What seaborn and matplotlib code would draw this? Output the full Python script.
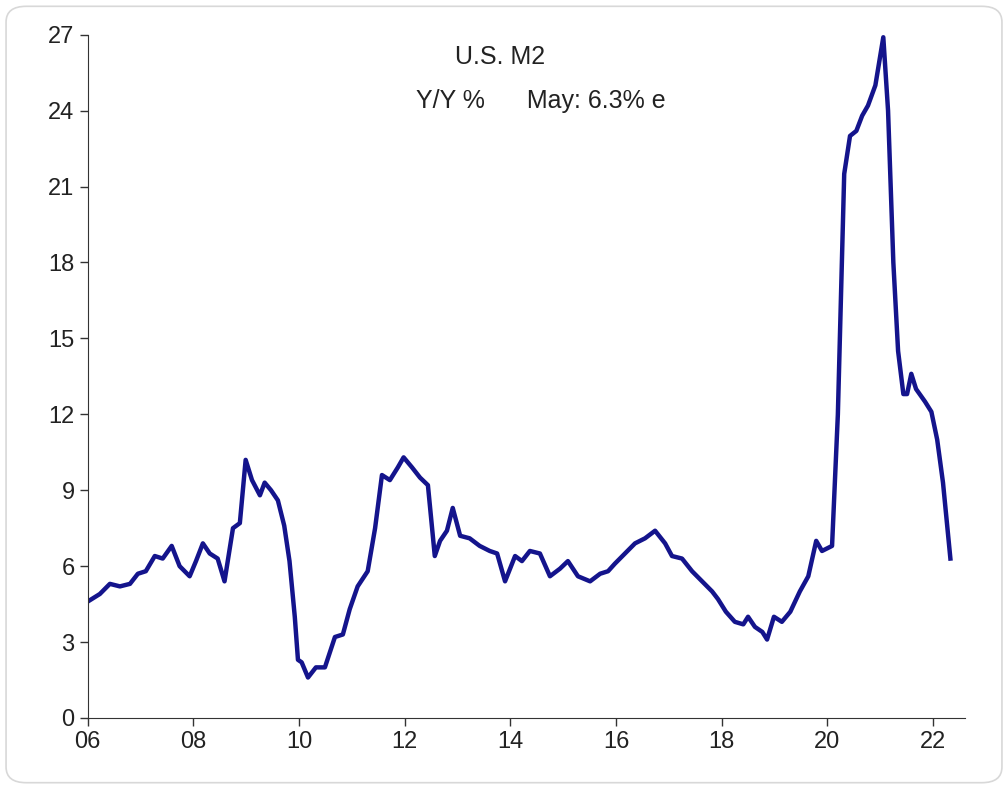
import matplotlib
matplotlib.use("Agg")
import matplotlib.pyplot as plt
import seaborn as sns
import pandas as pd
from matplotlib.patches import FancyBboxPatch

# ----------------------------
# DATA
# ----------------------------
years = [
    2006.00, 2006.23, 2006.42, 2006.61, 2006.80, 2006.95, 2007.10, 2007.27, 2007.42, 2007.59,
    2007.74, 2007.93, 2008.05, 2008.18, 2008.31, 2008.46, 2008.59, 2008.75, 2008.88, 2008.99,
    2009.11, 2009.26, 2009.35, 2009.47, 2009.60, 2009.72, 2009.82, 2009.92, 2009.98, 2010.05,
    2010.17, 2010.32, 2010.49, 2010.68, 2010.83, 2010.96, 2011.11, 2011.30, 2011.44, 2011.57,
    2011.72, 2011.87, 2011.98, 2012.14, 2012.29, 2012.44, 2012.57, 2012.67, 2012.80, 2012.91,
    2013.05, 2013.23, 2013.42, 2013.61, 2013.75, 2013.90, 2014.09, 2014.22, 2014.37, 2014.56,
    2014.75, 2014.94, 2015.09, 2015.28, 2015.51, 2015.70, 2015.85, 2015.98, 2016.17, 2016.36,
    2016.55, 2016.74, 2016.93, 2017.06, 2017.25, 2017.44, 2017.63, 2017.82, 2017.93, 2018.08,
    2018.25, 2018.41, 2018.50, 2018.63, 2018.77, 2018.86, 2018.99, 2019.14, 2019.30, 2019.48,
    2019.64, 2019.79, 2019.90, 2020.09, 2020.20, 2020.32, 2020.43, 2020.55, 2020.66, 2020.77,
    2020.91, 2021.06, 2021.15, 2021.25, 2021.34, 2021.44, 2021.51, 2021.59, 2021.68, 2021.85,
    2021.97, 2022.08, 2022.19, 2022.33,
]
m2_yoy = [
    4.6, 4.9, 5.3, 5.2, 5.3, 5.7, 5.8, 6.4, 6.3, 6.8,
    6.0, 5.6, 6.2, 6.9, 6.5, 6.3, 5.4, 7.5, 7.7, 10.2,
    9.4, 8.8, 9.3, 9.0, 8.6, 7.6, 6.2, 4.0, 2.3, 2.2,
    1.6, 2.0, 2.0, 3.2, 3.3, 4.3, 5.2, 5.8, 7.5, 9.6,
    9.4, 9.9, 10.3, 9.9, 9.5, 9.2, 6.4, 7.0, 7.4, 8.3,
    7.2, 7.1, 6.8, 6.6, 6.5, 5.4, 6.4, 6.2, 6.6, 6.5,
    5.6, 5.9, 6.2, 5.6, 5.4, 5.7, 5.8, 6.1, 6.5, 6.9,
    7.1, 7.4, 6.9, 6.4, 6.3, 5.8, 5.4, 5.0, 4.7, 4.2,
    3.8, 3.7, 4.0, 3.6, 3.4, 3.1, 4.0, 3.8, 4.2, 5.0,
    5.6, 7.0, 6.6, 6.8, 12.0, 21.5, 23.0, 23.2, 23.8, 24.2,
    25.0, 26.9, 24.0, 18.0, 14.5, 12.8, 12.8, 13.6, 13.0, 12.5,
    12.1, 11.0, 9.3, 6.3,
]
x_ticks = [2006, 2008, 2010, 2012, 2014, 2016, 2018, 2020, 2022]
x_labels = ["06", "08", "10", "12", "14", "16", "18", "20", "22"]
y_ticks = [0, 3, 6, 9, 12, 15, 18, 21, 24, 27]

df = pd.DataFrame({"year": years, "m2": m2_yoy})

# ----------------------------
# PLOT
# ----------------------------
plt.rcParams["font.family"] = "Liberation Sans"
fig = plt.figure(figsize=(10.08, 7.89), dpi=100)
fig.patches.append(FancyBboxPatch((0.006, 0.008), 0.988, 0.984,
                                  boxstyle="round,pad=0,rounding_size=0.02",
                                  transform=fig.transFigure, fill=False,
                                  edgecolor="#d8d8d8", linewidth=1.2))
ax = fig.add_axes([0.087, 0.09, 0.87, 0.866])

sns.lineplot(data=df, x="year", y="m2", ax=ax, color="#14148c", linewidth=3.2)

ax.set_xlim(2006, 2022.6)
ax.set_ylim(0, 27)
ax.set_xticks(x_ticks)
ax.set_xticklabels(x_labels)
ax.set_yticks(y_ticks)
ax.tick_params(labelsize=17, length=6, width=1, color="#333333", labelcolor="#222222")
ax.set_xlabel("")
ax.set_ylabel("")
for s in ["top", "right"]:
    ax.spines[s].set_visible(False)
for s in ["left", "bottom"]:
    ax.spines[s].set_color("#333333")

ax.text(0.47, 0.985, "U.S. M2", transform=ax.transAxes, ha="center", va="top",
        fontsize=18, color="#222222")
ax.text(0.517, 0.92, "Y/Y %      May: 6.3% e", transform=ax.transAxes, ha="center",
        va="top", fontsize=18, color="#222222")

fig.savefig("out.png", dpi=100)
